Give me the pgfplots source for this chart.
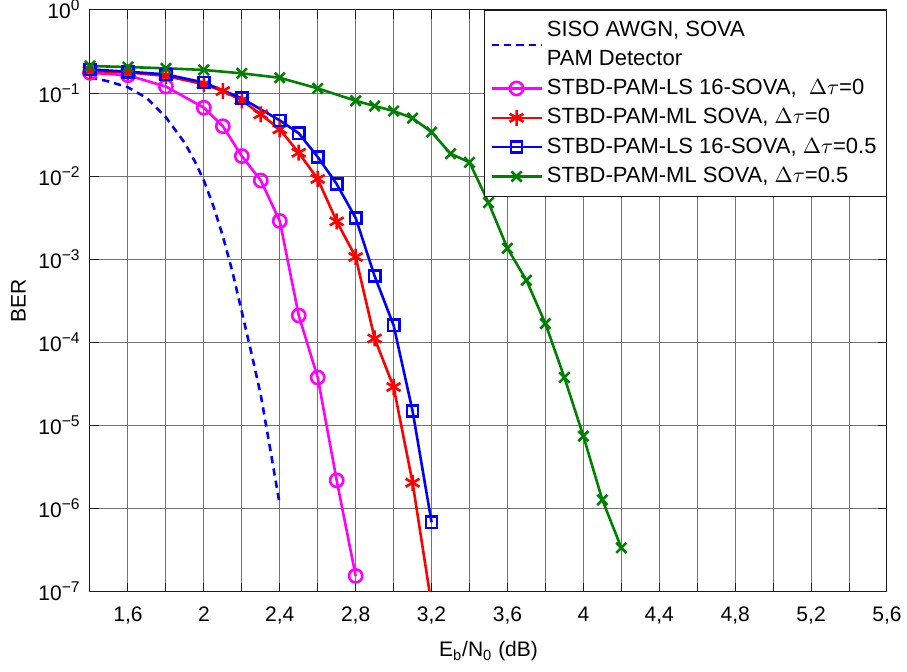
\documentclass[border=0pt]{standalone}
\usepackage{fontspec}
\setmainfont{Liberation Sans}
\usepackage{pgfplots}
\pgfplotsset{compat=1.18}
\definecolor{mgreen}{rgb}{0,0.5,0}
\definecolor{mmag}{rgb}{1,0,1}
\definecolor{mred}{rgb}{1,0,0}
\definecolor{mblue}{rgb}{0,0,1}
\newcommand\tl[1]{10\raisebox{4pt}{\fontsize{7.8}{7.8}\selectfont #1}}
\begin{document}
\begin{tikzpicture}
\path[use as bounding box] (-45pt,-40pt) rectangle (408.5pt,296pt);
\begin{axis}[
  scale only axis, width=398.5pt, height=291pt,
  at={(0,0)}, anchor=south west,
  xmin=1.4, xmax=5.6, ymode=log, log basis y=10, ymin=1e-7, ymax=1,
  xtick={1.4,1.6,1.8,2.0,2.2,2.4,2.6,2.8,3.0,3.2,3.4,3.6,3.8,4.0,4.2,4.4,4.6,4.8,5.0,5.2,5.4,5.6},
  xticklabels={{},{1,6},{},{2},{},{2,4},{},{2,8},{},{3,2},{},{3,6},{},{4},{},{4,4},{},{4,8},{},{5,2},{},{5,6}},
  ytick={1e-7,1e-6,1e-5,1e-4,1e-3,1e-2,1e-1,1},
  yticklabels={{\tl{−7}},{\tl{−6}},{\tl{−5}},{\tl{−4}},{\tl{−3}},{\tl{−2}},{\tl{−1}},{\tl{0}}},
  xmajorgrids, ymajorgrids, yminorgrids,
  major grid style={black!55, line width=0.5pt},
  minor grid style={black!75, dotted, line width=0.5pt},
  axis line style={black!90, line width=0.5pt},
  tick style={black!90, line width=0.5pt},
  ticklabel style={font=\fontsize{10.5}{12}\selectfont},
  xticklabel style={anchor=base, yshift=-15pt},
  yticklabel style={anchor=base east, inner sep=0pt, xshift=-5pt, yshift=-4.5pt},
  xlabel={E\textsubscript{b}/N\textsubscript{0} (dB)},
  ylabel={BER},
  label style={font=\fontsize{10.5}{12}\selectfont},
  xlabel style={at={(axis description cs:0.5,0)}, anchor=base, yshift=-32.5pt},
  ylabel style={at={(axis description cs:-0.0897,0.5)}, anchor=center},
  legend style={at={(1,1)}, anchor=north east, draw=black!90, line width=0.5pt, fill=white,
    font=\fontsize{11}{14.2}\selectfont, cells={anchor=west, align=left},
    inner xsep=3pt, inner ysep=3.5pt, row sep=1.5pt},
  legend image code/.code={\draw[mark repeat=2,mark phase=2] plot coordinates {(0pt,0pt) (12.5pt,0pt) (25pt,0pt)};},
]
\addplot[mblue, line width=1.3pt, dash pattern=on 3.6pt off 2.6pt] coordinates {
(1.4,0.155) (1.5,0.138) (1.6,0.1175) (1.7,0.0871) (1.8,0.0513) (1.9,0.0251)
(1.95,0.0155) (2.0,0.00891) (2.05,0.0044) (2.1,0.00191) (2.15,7.2e-4)
(2.2,2.34e-4) (2.25,7.6e-5) (2.3,2.34e-5) (2.35,5.2e-6) (2.4,1.12e-6)};
\addlegendentry{SISO AWGN, SOVA\\PAM Detector}
\addplot[mmag, line width=1.3pt, mark=o, mark size=3.3pt, mark options={solid}] coordinates {
(1.4,0.176) (1.6,0.164) (1.8,0.120) (2.0,0.0668) (2.1,0.040) (2.2,0.0175)
(2.3,0.0089) (2.4,0.0029) (2.5,2.12e-4) (2.6,3.8e-5) (2.7,2.2e-6) (2.8,1.56e-7)};
\addlegendentry{STBD-PAM-LS 16-SOVA,\ \ $\Delta\tau$=0}
\addplot[mred, line width=1.3pt, mark=asterisk, mark size=4pt, mark options={solid}] coordinates {
(1.4,0.185) (1.6,0.178) (1.8,0.161) (2.0,0.128) (2.1,0.106) (2.2,0.082)
(2.3,0.0556) (2.4,0.0367) (2.5,0.0192) (2.6,0.00928) (2.7,0.00287) (2.8,0.00107)
(2.9,1.12e-4) (3.0,2.92e-5) (3.1,2.06e-6) (3.2,7e-8)};
\addlegendentry{STBD-PAM-ML SOVA, $\Delta\tau$=0}
\addplot[mblue, line width=1.3pt, mark=square, mark size=2.8pt, mark options={solid}] coordinates {
(1.4,0.193) (1.6,0.181) (1.8,0.168) (2.0,0.134) (2.2,0.0867) (2.4,0.047)
(2.5,0.0329) (2.6,0.0171) (2.7,0.00807) (2.8,0.00315) (2.9,6.3e-4)
(3.0,1.61e-4) (3.1,1.5e-5) (3.2,6.9e-7)};
\addlegendentry{STBD-PAM-LS 16-SOVA, $\Delta\tau$=0.5}
\addplot[mgreen, line width=1.3pt, mark=x, mark size=3.6pt, mark options={solid}] coordinates {
(1.4,0.212) (1.6,0.206) (1.8,0.199) (2.0,0.19) (2.2,0.173) (2.4,0.153)
(2.6,0.114) (2.8,0.081) (2.9,0.070) (3.0,0.061) (3.1,0.050) (3.2,0.034)
(3.3,0.0187) (3.4,0.0147) (3.5,0.00482) (3.6,0.00136) (3.7,5.6e-4)
(3.8,1.69e-4) (3.9,3.8e-5) (4.0,7.5e-6) (4.1,1.28e-6) (4.2,3.4e-7)};
\addlegendentry{STBD-PAM-ML SOVA, $\Delta\tau$=0.5}
\end{axis}
\end{tikzpicture}
\end{document}
